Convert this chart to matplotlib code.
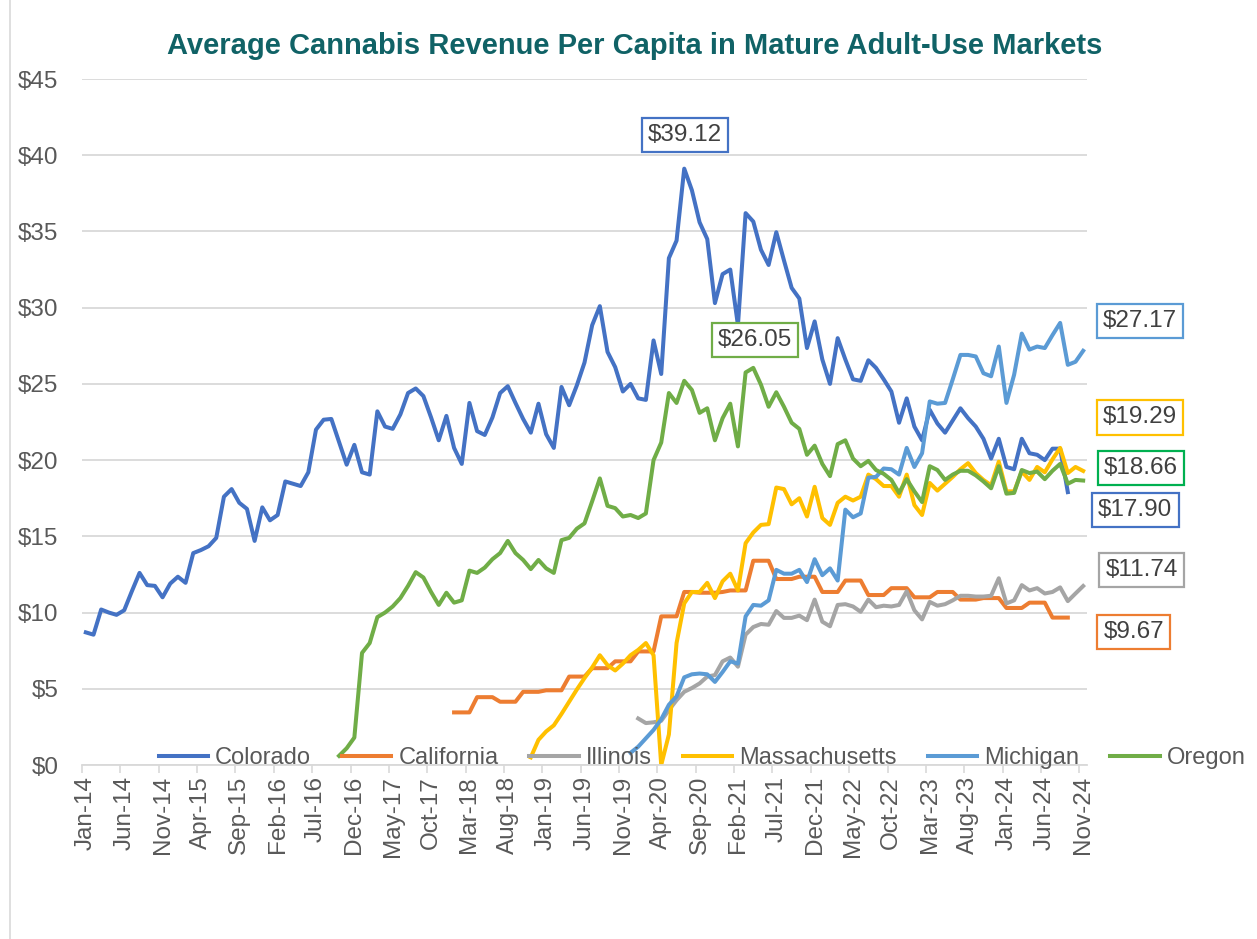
import matplotlib
matplotlib.use("Agg")
import matplotlib.pyplot as plt
import pandas as pd

plt.rcParams['font.family'] = ['Liberation Sans', 'DejaVu Sans']

# monthly axis Jan-14 .. Nov-24
months = pd.date_range('2014-01-01', periods=131, freq='MS')
month_labels = [m.strftime('%b-%y') for m in months]

# first month index of each series
colorado_start = 0
california_start = 48
illinois_start = 72
massachusetts_start = 58
michigan_start = 71
oregon_start = 33

colorado = [8.7, 8.55, 10.2, 10.0, 9.85, 10.15, 11.4, 12.6, 11.8, 11.75, 11.0, 11.9, 12.35, 11.95,
            13.9, 14.1, 14.35, 14.9, 17.6, 18.1, 17.2, 16.8, 14.7, 16.9, 16.05, 16.4, 18.6, 18.45,
            18.3, 19.2, 22.0, 22.65, 22.7, 21.2, 19.7, 21.0, 19.2, 19.05, 23.2, 22.2, 22.05, 23.0,
            24.4, 24.7, 24.2, 22.8, 21.3, 22.9, 20.8, 19.75, 23.75, 21.9, 21.65, 22.8, 24.4, 24.85,
            23.75, 22.7, 21.8, 23.7, 21.7, 20.8, 24.8, 23.6, 24.9, 26.4, 28.85, 30.1, 27.1, 26.1,
            24.5, 25.0, 24.05, 23.95, 27.85, 25.65, 33.25, 34.4, 39.12, 37.7, 35.6, 34.5, 30.3,
            32.2, 32.5, 28.85, 36.2, 35.65, 33.8, 32.8, 34.95, 33.1, 31.3, 30.6, 27.35, 29.1, 26.6,
            25.0, 28.0, 26.6, 25.3, 25.2, 26.55, 26.05, 25.3, 24.5, 22.45, 24.05, 22.2, 21.3, 23.3,
            22.4, 21.8, 22.6, 23.4, 22.75, 22.2, 21.4, 20.1, 21.4, 19.55, 19.4, 21.4, 20.45, 20.35,
            20.0, 20.75, 20.75, 17.90]

california = [3.45, 3.45, 3.45, 4.45, 4.45, 4.45, 4.15, 4.15, 4.15, 4.8, 4.8, 4.8, 4.9, 4.9, 4.9,
              5.8, 5.8, 5.8, 6.35, 6.35, 6.35, 6.8, 6.8, 6.8, 7.45, 7.45, 7.45, 9.75, 9.75, 9.75,
              11.35, 11.35, 11.3, 11.3, 11.3, 11.35, 11.45, 11.45, 11.45, 13.4, 13.4, 13.4, 12.2,
              12.2, 12.2, 12.35, 12.35, 12.35, 11.35, 11.35, 11.35, 12.1, 12.1, 12.1, 11.15, 11.15,
              11.15, 11.6, 11.6, 11.6, 11.0, 11.0, 11.0, 11.35, 11.35, 11.35, 10.85, 10.85, 10.85,
              10.95, 10.95, 10.95, 10.3, 10.3, 10.3, 10.65, 10.65, 10.65, 9.67, 9.67, 9.67]

illinois = [3.05, 2.75, 2.8, 2.9, 3.6, 4.25, 4.8, 5.05, 5.35, 5.8, 5.9, 6.8, 7.05, 6.45, 8.55, 9.05,
            9.25, 9.2, 10.1, 9.65, 9.65, 9.8, 9.5, 10.85, 9.4, 9.1, 10.5, 10.55, 10.4, 10.05, 10.85,
            10.35, 10.45, 10.4, 10.5, 11.4, 10.15, 9.55, 10.7, 10.45, 10.55, 10.8, 11.1, 11.1, 11.05,
            11.05, 11.1, 12.25, 10.6, 10.8, 11.8, 11.45, 11.6, 11.25, 11.35, 11.65, 10.75, 11.25, 11.74]

massachusetts = [0.5, 1.65, 2.2, 2.6, 3.35, 4.15, 4.95, 5.7, 6.4, 7.2, 6.55, 6.2, 6.65, 7.2, 7.55,
                 8.0, 7.2, 0.0, 2.0, 8.0, 10.6, 11.35, 11.35, 11.95, 10.95, 12.05, 12.55, 11.45,
                 14.55, 15.25, 15.75, 15.8, 18.2, 18.1, 17.1, 17.5, 16.3, 18.25, 16.2, 15.75, 17.2,
                 17.6, 17.35, 17.6, 19.05, 18.75, 18.3, 18.3, 17.6, 19.05, 17.05, 16.4, 18.5, 18.0,
                 18.45, 18.9, 19.4, 19.8, 19.15, 18.7, 18.35, 19.9, 17.95, 17.95, 19.25, 18.7, 19.55,
                 19.2, 20.05, 20.8, 19.15, 19.55, 19.29]

michigan = [0.8, 1.2, 1.75, 2.3, 3.0, 3.95, 4.5, 5.75, 5.95, 6.0, 5.95, 5.45, 6.1, 6.8, 6.65, 9.75,
            10.5, 10.45, 10.8, 12.8, 12.55, 12.55, 12.8, 12.0, 13.5, 12.45, 12.9, 12.1, 16.75, 16.25,
            16.5, 18.85, 18.9, 19.45, 19.4, 19.05, 20.8, 19.55, 20.45, 23.85, 23.7, 23.75, 25.3, 26.9,
            26.9, 26.8, 25.7, 25.5, 27.45, 23.75, 25.6, 28.3, 27.25, 27.45, 27.35, 28.2, 29.0, 26.25,
            26.45, 27.17]

oregon = [0.6, 1.1, 1.8, 7.35, 8.0, 9.7, 10.0, 10.4, 10.95, 11.75, 12.65, 12.3, 11.35, 10.5, 11.3,
          10.65, 10.8, 12.75, 12.6, 12.95, 13.5, 13.9, 14.7, 13.9, 13.45, 12.85, 13.45, 12.9, 12.6,
          14.75, 14.9, 15.5, 15.85, 17.3, 18.8, 17.0, 16.85, 16.3, 16.4, 16.2, 16.5, 20.0, 21.15,
          24.4, 23.75, 25.2, 24.6, 23.1, 23.4, 21.3, 22.75, 23.7, 20.9, 25.75, 26.05, 24.95, 23.5,
          24.45, 23.5, 22.45, 22.05, 20.35, 20.95, 19.75, 18.95, 21.05, 21.3, 20.1, 19.6, 19.95,
          19.35, 19.1, 18.7, 17.85, 18.75, 17.95, 17.25, 19.6, 19.35, 18.7, 19.05, 19.3, 19.3, 19.0,
          18.6, 18.15, 19.6, 17.8, 17.85, 19.35, 19.15, 19.25, 18.75, 19.3, 19.75, 18.45, 18.7, 18.66]

series = [
    ("Colorado", colorado_start, colorado, "#4472C4"),
    ("California", california_start, california, "#ED7D31"),
    ("Illinois", illinois_start, illinois, "#A5A5A5"),
    ("Massachusetts", massachusetts_start, massachusetts, "#FFC000"),
    ("Michigan", michigan_start, michigan, "#5B9BD5"),
    ("Oregon", oregon_start, oregon, "#70AD47"),
]

fig = plt.figure(figsize=(12.57, 9.39), dpi=100)
ax = fig.add_axes([82 / 1257, 1 - 765 / 939, (1087 - 82) / 1257, (765 - 79) / 939])

for name, start, vals, color in series:
    xs = list(range(start, start + len(vals)))
    ax.plot(xs, vals, color=color, lw=2.9, label=name, solid_joinstyle='round')

ax.set_xlim(-0.5, 130.5)
ax.set_ylim(0, 45)
ax.set_yticks(range(0, 50, 5))
ax.set_yticklabels(['$%d' % v for v in range(0, 50, 5)])
ax.set_xticks(range(0, 131, 5))
ax.set_xticklabels(month_labels[::5], rotation=90)
ax.set_xticks([x - 0.5 for x in range(0, 131, 5)], minor=True)
ax.tick_params(axis='x', which='major', length=0, pad=8, labelsize=17.5, labelcolor='#595959')
ax.tick_params(axis='x', which='minor', length=6, color='#D9D9D9', width=1.2)
ax.tick_params(axis='y', length=0, pad=17, labelsize=17.5, labelcolor='#595959')
ax.grid(axis='y', color='#D9D9D9', lw=1.3)
ax.set_axisbelow(True)
for s in ['top', 'right', 'left']:
    ax.spines[s].set_visible(False)
ax.spines['bottom'].set_color('#D9D9D9')
ax.spines['bottom'].set_linewidth(1.3)

fig.suptitle("Average Cannabis Revenue Per Capita in Mature Adult-Use Markets",
             x=0.505, y=0.951, va='center', fontsize=21, fontweight='bold', color='#106266')

# value call-outs
callouts = [
    ("$39.12", 78.1, 41.35, "#4472C4"),
    ("$26.05", 87.2, 27.9, "#70AD47"),
    ("$27.17", 137.4, 29.1, "#5B9BD5"),
    ("$19.29", 137.4, 22.8, "#FFC000"),
    ("$18.66", 137.5, 19.5, "#00B050"),
    ("$17.90", 136.8, 16.7, "#4472C4"),
    ("$11.74", 137.6, 12.8, "#A5A5A5"),
    ("$9.67", 136.6, 8.7, "#ED7D31"),
]
for txt, x, y, c in callouts:
    ax.text(x, y, txt, ha='center', va='center', fontsize=17.5, color='#404040', clip_on=False,
            bbox=dict(boxstyle='square,pad=0.25', fc='white', ec=c, lw=1.6))

fig.legend(loc='center', bbox_to_anchor=(702 / 1257, 1 - 758 / 939), ncol=6, frameon=False,
           fontsize=17, labelcolor='#595959', handlelength=2.1, columnspacing=1.3,
           handletextpad=0.3)

fig.add_artist(plt.Line2D([10 / 1257, 10 / 1257], [0, 1], color='#D9D9D9', lw=1.2))

fig.savefig("out.png", dpi=100)
